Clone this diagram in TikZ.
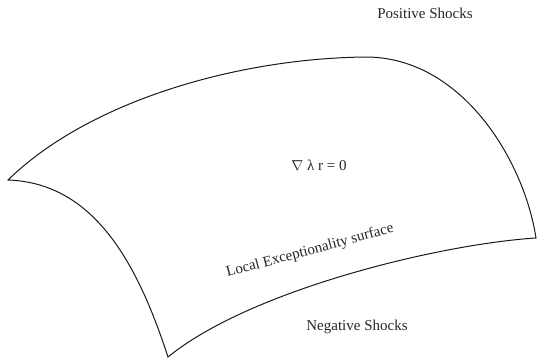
\documentclass[tikz,border=0pt]{standalone}
\usepackage{fontspec}
\setmainfont{Liberation Serif}
\usetikzlibrary{positioning}

\begin{document}
\begin{tikzpicture}[
    x=1pt, y=-1pt,
    font=\fontsize{15}{18}\selectfont,
    % Define styles for the surface outline and the labels
    surfaceedge/.style={draw=black!90, line width=1pt, line join=miter},
    shocklabel/.style={text=black!85, inner sep=0pt},
]
\useasboundingbox (0,0) rectangle (538,359);

% -------------------------
% Surface Corners
% -------------------------
\coordinate (left) at (8,180);
\coordinate (top) at (367,57);
\coordinate (right) at (536,238);
\coordinate (bottom) at (168,357);

% -------------------------
% Surface Outline
% -------------------------
\draw[surfaceedge] (left) .. controls (90,100) and (240,58) .. (top)
    .. controls (462,58) and (524,160) .. (right)
    .. controls (440,244) and (250,290) .. (bottom)
    .. controls (138,265) and (95,183) .. cycle;

% -------------------------
% Labels
% -------------------------
\node (positive) [shocklabel] at (425,13) {Positive Shocks};
\node (condition) [shocklabel] at (319,165) {$\nabla$ λ r = 0};
\node (exception) [shocklabel, rotate=15] at (310,251) {Local Exceptionality surface};
\node (negative) [shocklabel] at (357,327) {Negative Shocks};

\end{tikzpicture}
\end{document}
